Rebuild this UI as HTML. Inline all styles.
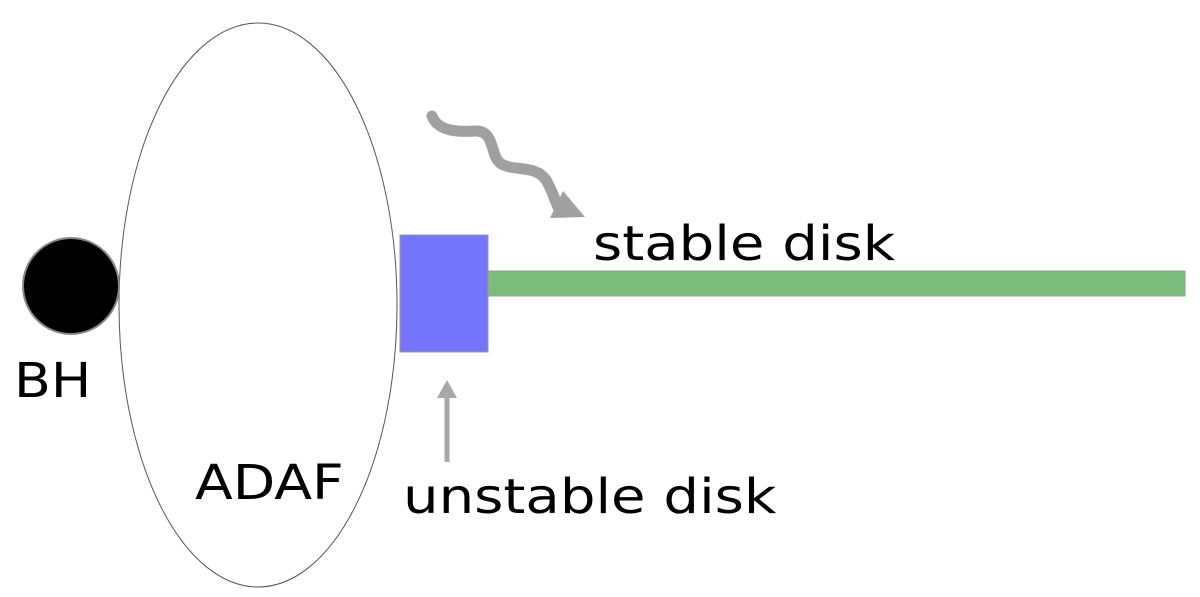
<!DOCTYPE html>
<html><head><style>body{margin:0;background:#fff}</style></head><body>
<svg width="1200" height="597" viewBox="0 0 1200 597" xmlns="http://www.w3.org/2000/svg" style="display:block">
<rect width="1200" height="597" fill="#fff"/>
<ellipse cx="258" cy="305" rx="139" ry="282" fill="none" stroke="#555" stroke-width="1"/>
<circle cx="71" cy="286" r="48" fill="#000" stroke="#888" stroke-width="2"/>
<rect x="400" y="235" width="88" height="117" fill="#7575fb" stroke="#999" stroke-width="1"/>
<rect x="488" y="271" width="697" height="25" fill="#7bbd7b" stroke="#999" stroke-width="1"/>
<path d="M432,116 C438,132 460,132 475,131 C495,130 490,155 500,163 C512,172 535,164 546,180 C552,190 554,198 558,207" fill="none" stroke="#a0a0a0" stroke-width="11" stroke-linecap="round"/>
<polygon points="550,218 585,217 563,191" fill="#a0a0a0"/>
<line x1="447" y1="462" x2="447" y2="395" stroke="#a8a8a8" stroke-width="5"/>
<polygon points="437,398 457,398 447,380" fill="#a8a8a8"/>
<g font-family="'DejaVu Sans','Liberation Sans',sans-serif" font-size="48" fill="#000">
<text transform="translate(593,260) scale(1.17,1)">stable disk</text>
<text transform="translate(14,397) scale(1.12,1)">BH</text>
<text transform="translate(195,499) scale(1.15,1)">ADAF</text>
<text transform="translate(403,513) scale(1.17,1)">unstable disk</text>
</g>
</svg>
</body></html>
